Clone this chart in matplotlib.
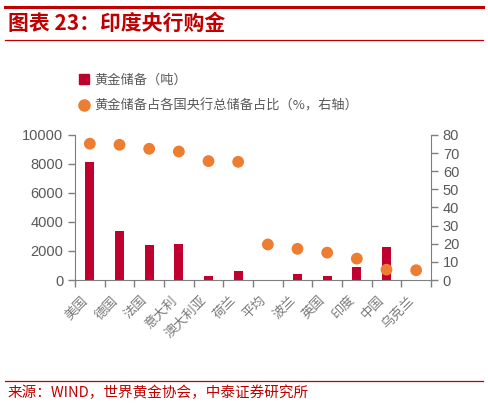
import matplotlib
matplotlib.use("Agg")
import matplotlib.pyplot as plt
import matplotlib.transforms as mtrans
import numpy as np
from matplotlib.lines import Line2D

plt.rcParams['font.family'] = ['Noto Sans CJK SC', 'DejaVu Sans']

countries = ["美国", "德国", "法国", "意大利", "澳大利亚", "荷兰", "平均",
             "波兰", "英国", "印度", "中国", "乌克兰"]
reserves = [8130, 3355, 2436, 2452, 280, 612, np.nan, 400, 310, 880, 2290, 25]
share = [75.2, 74.6, 72.4, 70.9, 65.6, 65.2, 19.6, 17.2, 15.1, 11.8, 5.7, 5.4]

left_ticks = [0, 2000, 4000, 6000, 8000, 10000]
right_ticks = [0, 10, 20, 30, 40, 50, 60, 70, 80]

red = "#C0002F"
orange = "#ED7D31"
gray = "#595959"
lightgray = "#7a7a7a"
axgray = "#7F7F7F"
title_red = "#C00000"

fig = plt.figure(figsize=(4.88, 4.05), dpi=100)

# header / footer decorations
fig.add_artist(Line2D([5/488, 483/488], [1-7/405, 1-7/405], color=title_red, lw=2.2))
fig.add_artist(Line2D([5/488, 483/488], [1-40/405, 1-40/405], color=title_red, lw=0.9))
fig.add_artist(Line2D([5/488, 483/488], [1-381/405, 1-381/405], color=title_red, lw=0.9))
fig.text(8/488, 1-23/405, "图表 23：印度央行购金", color=title_red, fontsize=15,
         fontweight='bold', style='italic', va='center', ha='left')
fig.text(8/488, 1-393/405, "来源：WIND，世界黄金协会，中泰证券研究所", color=title_red,
         fontsize=10.5, va='center', ha='left')

ax = fig.add_axes([75/488, 1-280/405, (431-75)/488, (280-135)/405])
x = np.arange(len(countries))
ax.bar(x, reserves, width=0.31, color=red, zorder=2)
ax.set_xlim(-0.5, len(countries)-0.5)
ax.set_ylim(0, 10000)
ax.set_yticks(left_ticks)

ax2 = ax.twinx()
ax2.scatter(x, share, s=72, color=orange, zorder=3, edgecolors='none')
ax2.set_ylim(0, 80)
ax2.set_yticks(right_ticks)

for a in (ax, ax2):
    a.spines['top'].set_visible(False)
    a.tick_params(colors=axgray, labelcolor=gray, labelsize=10.5, length=5, width=1)
    for lab in a.get_yticklabels():
        lab.set_fontfamily('Liberation Sans')
ax.spines['right'].set_visible(False)
ax2.spines['left'].set_visible(False)
ax.spines['left'].set_color(axgray)
ax2.spines['right'].set_color(axgray)
ax.spines['bottom'].set_color(axgray)
ax2.spines['bottom'].set_visible(False)

ax.set_xticks(np.arange(-0.5, len(countries)), minor=False)
ax.set_xticklabels([])
ax.set_xticks(x, minor=True)
ax.set_xticklabels(countries, minor=True, rotation=45, ha='right', va='top',
                   rotation_mode='anchor', fontsize=9.5, color=lightgray)
ax.tick_params(axis='x', which='minor', length=0, pad=10)
ax.tick_params(axis='x', which='major', length=5, colors=axgray)
shift = mtrans.ScaledTranslation(-6/72, 0, fig.dpi_scale_trans)
for lab in ax.get_xticklabels(minor=True):
    lab.set_transform(lab.get_transform() + shift)

# legend
handles = [Line2D([], [], marker='s', ls='none', color=red, markersize=7),
           Line2D([], [], marker='o', ls='none', color=orange, markersize=8)]
labels = ["黄金储备（吨）", "黄金储备占各国央行总储备占比（%，右轴）"]
fig.legend(handles, labels, loc='upper left', bbox_to_anchor=(72/488, 1-68/405),
           frameon=False, fontsize=9.5, labelcolor=gray, handletextpad=0.3,
           labelspacing=1.0, handlelength=1.0, borderaxespad=0)

fig.savefig("out.png", dpi=100)
